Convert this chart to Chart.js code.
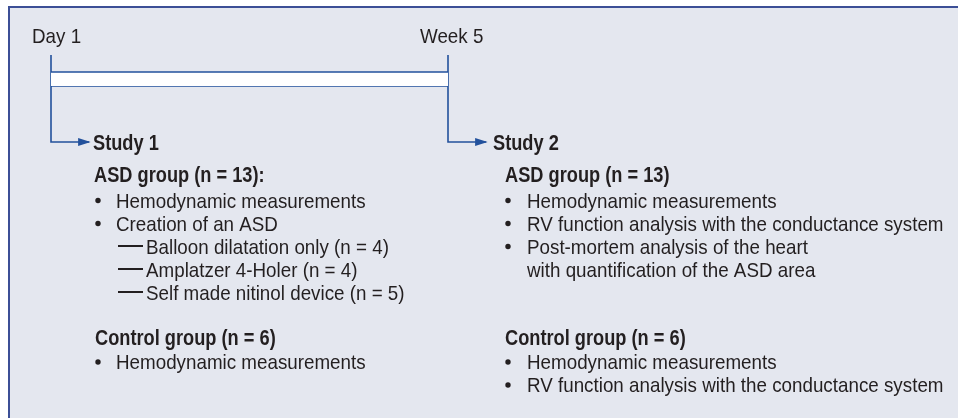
<!DOCTYPE html>
<html>
<head>
<meta charset="utf-8">
<script src="https://cdn.jsdelivr.net/npm/chart.js@4/dist/chart.umd.min.js"></script>
<style>
  html, body { margin: 0; padding: 0; background: #ffffff; }
  #wrap { width: 958px; height: 418px; position: relative; }
</style>
</head>
<body>
<div id="wrap"><canvas id="c" width="958" height="418"></canvas></div>
<script>
// ---------- DATA ----------
const timepointLabels = ['Day 1', 'Week 5'];
const timepointWeeks = [0, 5];
const studyTitles = ['Study 1', 'Study 2'];
const asdGroupTitles = ['ASD group (n = 13):', 'ASD group (n = 13)'];
const study1AsdBullets = ['Hemodynamic measurements', 'Creation of an ASD'];
const study1AsdSubitems = ['Balloon dilatation only (n = 4)', 'Amplatzer 4-Holer (n = 4)', 'Self made nitinol device (n = 5)'];
const study2AsdBullets = [
  ['Hemodynamic measurements'],
  ['RV function analysis with the conductance system'],
  ['Post-mortem analysis of the heart', 'with quantification of the ASD area']
];
const controlGroupTitles = ['Control group (n = 6)', 'Control group (n = 6)'];
const study1ControlBullets = ['Hemodynamic measurements'];
const study2ControlBullets = ['Hemodynamic measurements', 'RV function analysis with the conductance system'];

// ---------- STYLE / LAYOUT ----------
const LINE = '#22519c';
const TEXT = '#231f20';
const BG = '#e4e7ef';
const FRAME = '#3c4f96';
const bandTop = 72, bandBottom = 86, connTop = 55, arrowY = 142;
const arrowReach = 0.48;   // horizontal reach of the arrows, in axis units
const normFont = '21px "Liberation Sans", Arial, sans-serif';
const boldFont = 'bold 22.5px "Liberation Sans", Arial, sans-serif';
const normK = 0.895, boldK = 0.81;

function seg(pts) { return pts.map(p => ({x: p[0], y: p[1]})); }
const t0 = timepointWeeks[0], t1 = timepointWeeks[1];

const datasets = [
  { label: 'band-top', data: seg([[t0, bandTop], [t1, bandTop]]), fill: '+1', backgroundColor: '#ffffff' },
  { label: 'band-bottom', data: seg([[t0, bandBottom], [t1, bandBottom]]), fill: false },
].concat(timepointWeeks.map((w, i) => ({
  label: 'connector-' + i,
  arrow: true,
  data: seg([[w, connTop], [w, arrowY], [w + arrowReach, arrowY]]),
  fill: false
})));
datasets.forEach(d => {
  d.borderColor = LINE; d.borderWidth = 1.6; d.pointRadius = 0; d.tension = 0;
  d.borderCapStyle = 'butt'; d.borderJoinStyle = 'miter';
});

function txt(ctx, s, x, y, font, k) {
  ctx.save();
  ctx.font = font;
  ctx.translate(x, y);
  ctx.scale(k, 1);
  ctx.fillText(s, 0, 0);
  ctx.restore();
}
function bullet(ctx, x, y) {
  ctx.save();
  ctx.fillStyle = TEXT;
  ctx.beginPath();
  ctx.arc(x + 3, y - 7, 2.7, 0, Math.PI * 2);
  ctx.fill();
  ctx.restore();
}

const framePlugin = {
  id: 'frame',
  beforeDraw(chart) {
    const ctx = chart.ctx;
    ctx.save();
    ctx.fillStyle = '#ffffff';
    ctx.fillRect(0, 0, chart.width, chart.height);
    ctx.fillStyle = BG;
    ctx.fillRect(9, 7, chart.width, chart.height);
    ctx.strokeStyle = FRAME;
    ctx.lineWidth = 2;
    ctx.beginPath();
    ctx.moveTo(9, chart.height + 2);
    ctx.lineTo(9, 7);
    ctx.lineTo(chart.width + 2, 7);
    ctx.stroke();
    ctx.restore();
  }
};

const diagramPlugin = {
  id: 'diagram',
  afterDatasetsDraw(chart) {
    const ctx = chart.ctx;
    const xs = chart.scales.x, ys = chart.scales.y;
    // arrowheads
    chart.data.datasets.forEach(ds => {
      if (!ds.arrow) return;
      const last = ds.data[ds.data.length - 1];
      const px = xs.getPixelForValue(last.x), py = ys.getPixelForValue(last.y);
      ctx.save();
      ctx.fillStyle = LINE;
      ctx.beginPath();
      ctx.moveTo(px + 1.5, py);
      ctx.lineTo(px - 11, py - 4);
      ctx.lineTo(px - 11, py + 4);
      ctx.closePath();
      ctx.fill();
      ctx.restore();
    });

    ctx.save();
    ctx.fillStyle = TEXT;
    ctx.textBaseline = 'alphabetic';
    const p0 = xs.getPixelForValue(t0), p1 = xs.getPixelForValue(t1);
    // timepoint labels
    txt(ctx, timepointLabels[0], p0 - 19, 43, normFont, normK);
    txt(ctx, timepointLabels[1], p1 - 28, 43, normFont, normK);
    // study titles
    txt(ctx, studyTitles[0], p0 + 42, 150, boldFont, boldK);
    txt(ctx, studyTitles[1], p1 + 45, 150, boldFont, boldK);

    const rowY = n => 207.5 + 23 * n;
    const ctrlY = n => 369 + 23 * n;

    // Study 1 column
    const h1 = p0 + 43, b1 = p0 + 44, t1x = p0 + 65;
    txt(ctx, asdGroupTitles[0], h1, 182, boldFont, boldK);
    let r = 0;
    study1AsdBullets.forEach(s => {
      bullet(ctx, b1, rowY(r));
      txt(ctx, s, t1x, rowY(r), normFont, normK);
      r++;
    });
    study1AsdSubitems.forEach(s => {
      ctx.save();
      ctx.strokeStyle = TEXT; ctx.lineWidth = 2;
      ctx.beginPath();
      ctx.moveTo(t1x + 2, rowY(r) - 7.5);
      ctx.lineTo(t1x + 27, rowY(r) - 7.5);
      ctx.stroke();
      ctx.restore();
      txt(ctx, s, t1x + 30, rowY(r), normFont, normK);
      r++;
    });
    txt(ctx, controlGroupTitles[0], h1 + 1, 345, boldFont, boldK);
    study1ControlBullets.forEach((s, i) => {
      bullet(ctx, b1, ctrlY(i));
      txt(ctx, s, t1x, ctrlY(i), normFont, normK);
    });

    // Study 2 column
    const h2 = p1 + 57, b2 = p1 + 57, t2x = p1 + 79;
    txt(ctx, asdGroupTitles[1], h2, 182, boldFont, boldK);
    r = 0;
    study2AsdBullets.forEach(lines => {
      bullet(ctx, b2, rowY(r));
      lines.forEach(s => { txt(ctx, s, t2x, rowY(r), normFont, normK); r++; });
    });
    txt(ctx, controlGroupTitles[1], h2, 345, boldFont, boldK);
    study2ControlBullets.forEach((s, i) => {
      bullet(ctx, b2, ctrlY(i));
      txt(ctx, s, t2x, ctrlY(i), normFont, normK);
    });
    ctx.restore();
  }
};

// x: weeks axis mapped so the timeline spans the top band; y: vertical layout axis
const pxPerWeek = 79.4;
const xMin = t0 - 51 / pxPerWeek;
const xMax = xMin + 958 / pxPerWeek;

new Chart(document.getElementById('c'), {
  type: 'line',
  data: { datasets },
  options: {
    responsive: false,
    animation: false,
    parsing: true,
    layout: { padding: 0 },
    plugins: { legend: { display: false }, tooltip: { enabled: false } },
    scales: {
      x: { type: 'linear', min: xMin, max: xMax, display: false },
      y: { type: 'linear', min: 0, max: 418, reverse: true, display: false }
    },
    events: []
  },
  plugins: [framePlugin, diagramPlugin]
});
</script>
</body>
</html>
